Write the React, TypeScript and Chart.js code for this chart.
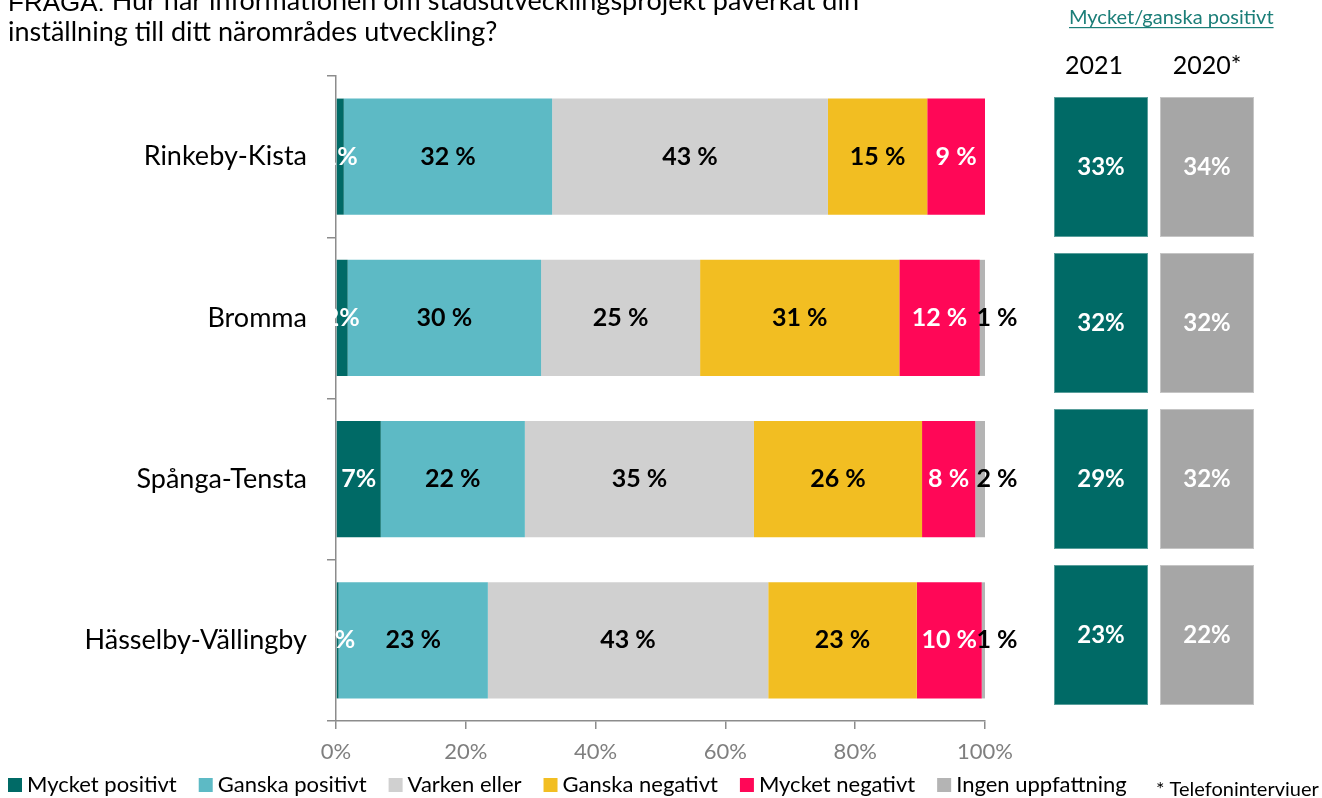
import React, { useEffect, useRef } from "react";
import { Chart, registerables } from "chart.js";

Chart.register(...registerables);

// ---------- data ----------
const regions = ["Rinkeby-Kista", "Bromma", "Spånga-Tensta", "Hässelby-Vällingby"];
const seriesNames = [
  "Mycket positivt",
  "Ganska positivt",
  "Varken eller",
  "Ganska negativt",
  "Mycket negativt",
  "Ingen uppfattning",
];
const mycketPositivt = [1.2, 1.8, 6.9, 0.4];
const ganskaPositivt = [32.1, 29.8, 22.2, 23.0];
const varkenEller = [42.5, 24.5, 35.3, 43.2];
const ganskaNegativt = [15.3, 30.7, 25.9, 22.9];
const mycketNegativt = [8.9, 12.4, 8.2, 10.0];
const ingenUppfattning = [0, 0.8, 1.5, 0.5];

const xTickValues = [0, 20, 40, 60, 80, 100];

const summaryColumns = ["2021", "2020*"];
const positive2021 = [33, 32, 29, 23];
const positive2020 = [34, 32, 32, 22];

const titleLead = "FRÅGA:";
const titleLine1 = " Hur har informationen om stadsutvecklingsprojekt påverkat din";
const titleLine2 = "inställning till ditt närområdes utveckling?";
const summaryHeader = "Mycket/ganska positivt";
const footnote = "* Telefoninterviuer";

// ---------- styles ----------
const colors = ["#006a66", "#5dbac5", "#d0d0d0", "#f2be22", "#ff0757", "#b4b4b4"];
const labelColors = ["#ffffff", "#000000", "#000000", "#000000", "#ffffff", "#000000"];
const FONT = "Lato";

const valueLabelPlugin = {
  id: "valueLabels",
  afterDatasetsDraw(chart: any) {
    const ctx = chart.ctx;
    ctx.save();
    ctx.font = `bold 25px ${FONT}`;
    ctx.textBaseline = "middle";
    ctx.textAlign = "center";
    chart.data.datasets.forEach((ds: any, di: number) => {
      const meta = chart.getDatasetMeta(di);
      meta.data.forEach((el: any, i: number) => {
        const v = ds.data[i];
        if (!v) return;
        const r = Math.round(v);
        const text = di === 0 ? `${r}%` : `${r} %`;
        ctx.fillStyle = labelColors[di];
        if (di === 5) {
          ctx.fillText(text, el.x + 12, el.y);
        } else {
          ctx.fillText(text, (el.x + el.base) / 2, el.y);
        }
      });
    });
    ctx.restore();
  },
};

const decorPlugin = {
  id: "decor",
  afterDraw(chart: any) {
    const ctx = chart.ctx;
    const area = chart.chartArea;
    ctx.save();

    // title
    ctx.textBaseline = "alphabetic";
    ctx.textAlign = "left";
    ctx.fillStyle = "#000";
    ctx.font = `26px "Liberation Sans"`;
    ctx.fillText(titleLead, 8, 11);
    const leadW = ctx.measureText(titleLead).width;
    ctx.font = `27px ${FONT}`;
    ctx.fillText(titleLine1, 8 + leadW, 10);
    ctx.fillText(titleLine2, 8, 41);

    // summary header
    const col0 = 1054;
    const colW = 94;
    const colGap = 12;
    ctx.font = `20px ${FONT}`;
    ctx.fillStyle = "#1b7e78";
    ctx.fillText(summaryHeader, 1069, 24);
    const hw = ctx.measureText(summaryHeader).width;
    ctx.fillRect(1069, 27, hw, 1.2);

    ctx.fillStyle = "#000";
    ctx.font = `25px ${FONT}`;
    ctx.textAlign = "center";
    ctx.textBaseline = "middle";
    summaryColumns.forEach((c, ci) => {
      ctx.fillText(c, col0 + ci * (colW + colGap) + colW / 2 + (ci === 0 ? -7 : 0), 66);
    });

    // summary boxes
    const tTop = area.top + 21;
    const tBottom = area.bottom - 16;
    const gap = 16;
    const n = regions.length;
    const pitch = (tBottom - tTop + gap) / n;
    const h = pitch - gap;
    const vals = [positive2021, positive2020];
    const boxColors = ["#006a66", "#a6a6a6"];
    ctx.font = `bold 24px ${FONT}`;
    for (let ci = 0; ci < 2; ci++) {
      for (let ri = 0; ri < n; ri++) {
        const x = col0 + ci * (colW + colGap);
        const y = tTop + ri * pitch;
        ctx.fillStyle = boxColors[ci];
        ctx.fillRect(x, y, colW, h);
        ctx.strokeStyle = "rgba(255,255,255,0.35)";
        ctx.lineWidth = 1;
        ctx.strokeRect(x + 0.5, y + 0.5, colW - 1, h - 1);
        ctx.fillStyle = "#fff";
        ctx.fillText(`${vals[ci][ri]}%`, x + colW / 2, y + h / 2);
      }
    }

    // legend
    ctx.textAlign = "left";
    ctx.textBaseline = "middle";
    ctx.font = `22px ${FONT}`;
    let lx = 8;
    const ly = 785;
    chart.data.datasets.forEach((ds: any) => {
      ctx.fillStyle = ds.backgroundColor;
      ctx.fillRect(lx, ly - 7, 14, 14);
      ctx.fillStyle = "#000";
      ctx.fillText(ds.label, lx + 19, ly);
      lx += 19 + ctx.measureText(ds.label).width + 22;
    });

    ctx.font = `20px ${FONT}`;
    ctx.fillText(footnote, 1156, 790);
    ctx.restore();
  },
};

export default function App() {
  const ref = useRef<HTMLCanvasElement | null>(null);

  useEffect(() => {
    if (!ref.current) return;
    const seriesData = [
      mycketPositivt,
      ganskaPositivt,
      varkenEller,
      ganskaNegativt,
      mycketNegativt,
      ingenUppfattning,
    ];
    const chart = new Chart(ref.current, {
      type: "bar",
      data: {
        labels: regions,
        datasets: seriesNames.map((name, i) => ({
          label: name,
          data: seriesData[i],
          backgroundColor: colors[i],
          borderWidth: 0,
          barPercentage: 0.72,
          categoryPercentage: 1,
        })),
      },
      options: {
        indexAxis: "y",
        animation: false,
        responsive: false,
        layout: { padding: { top: 76, right: 337, bottom: 27, left: 0 } },
        plugins: {
          legend: { display: false },
          tooltip: { enabled: false },
        },
        scales: {
          x: {
            stacked: true,
            min: 0,
            max: 100,
            afterBuildTicks: (s: any) => {
              s.ticks = xTickValues.map((v) => ({ value: v }));
            },
            ticks: {
              callback: (v: any) => `${v}%`,
              color: "#7f7f7f",
              font: { family: FONT, size: 22 },
              padding: 10,
              maxRotation: 0,
            },
            grid: { drawOnChartArea: false, drawTicks: true, tickLength: 8, color: "#8c8c8c", lineWidth: 1.5 },
            border: { color: "#8c8c8c", width: 1.5 },
            afterFit: (s: any) => {
              s.height = 50;
            },
          },
          y: {
            stacked: true,
            ticks: { color: "#000", font: { family: FONT, size: 27 }, padding: 20 },
            grid: { drawOnChartArea: false, drawTicks: true, tickLength: 9, color: "#8c8c8c", lineWidth: 1.5, offset: true },
            border: { color: "#8c8c8c", width: 1.5 },
            afterFit: (s: any) => {
              s.width = 336;
            },
          },
        },
      },
      plugins: [valueLabelPlugin, decorPlugin],
    } as any);
    return () => chart.destroy();
  }, []);

  return (
    <div style={{ position: "absolute", left: 0, top: 0, width: 1322, height: 798, background: "#fff" }}>
      <canvas ref={ref} width={1322} height={798} style={{ width: 1322, height: 798, display: "block" }} />
    </div>
  );
}
